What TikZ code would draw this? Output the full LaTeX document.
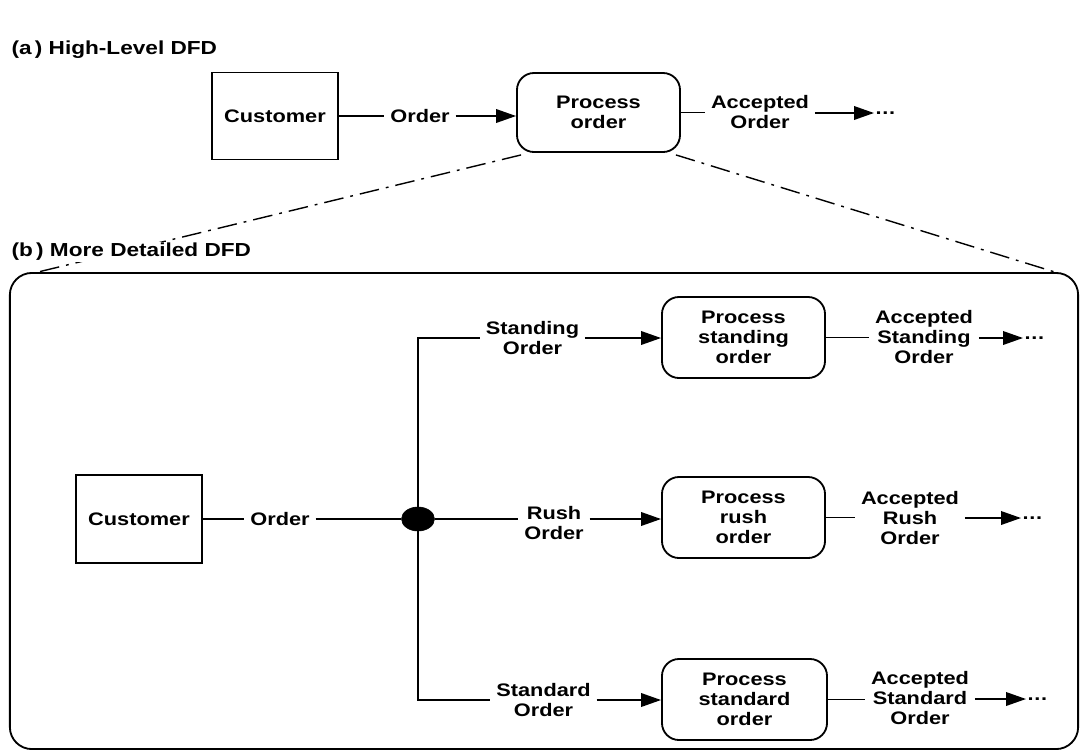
\documentclass[tikz,border=0pt]{standalone}
\usepackage{fontspec}
\setmainfont{Liberation Sans}[FakeStretch=1.2]
\usetikzlibrary{arrows.meta,shapes.geometric,calc}

\newcommand{\moredots}{\textbf{.\kern0.5pt.\kern0.5pt.}}

\begin{document}
\begin{tikzpicture}[x=0.025cm,y=-0.025cm,
  every node/.style={font=\fontsize{12.9}{14}\selectfont\bfseries, align=center},
  entity/.style={draw, line width=1.3pt, inner sep=0pt},
  process/.style={draw, line width=1.3pt, rounded corners=0.425cm, fill=white, inner sep=0pt},
  flowlabel/.style={inner xsep=4pt, inner ysep=1pt},
  flow/.style={line width=1.2pt},
  arrowflow/.style={flow, -{Triangle[length=5mm,width=3.4mm]}},
  zoomline/.style={line width=1pt, dash pattern=on 14pt off 5pt on 2pt off 5pt},
  titlelabel/.style={anchor=west, inner sep=1pt, fill=white, font=\fontsize{13.4}{15}\selectfont\bfseries},
  ellipsis/.style={anchor=west, inner xsep=1pt, inner ysep=0pt}]

\useasboundingbox (0,0) rectangle (1085,752);

% ---------- (a) high-level diagram ----------
\node[titlelabel] (ta) at (10,50) {(a\,) High-Level DFD};

\node[entity, minimum width=3.15cm, minimum height=2.175cm] (cust1) at (275,116) {Customer};
\node[flowlabel] (ord1) at (420,116) {Order};
\node[process, minimum width=4.075cm, minimum height=1.975cm] (proc1) at (598.5,112.5) {Process\\order};
\node[flowlabel] (acc1) at (760,112) {Accepted\\Order};
\node[ellipsis] (dots1) at (874,113) {\moredots};

\draw[flow] (cust1.east |- ord1.west) -- (ord1.west);
\draw[arrowflow] (ord1.east) -- (ord1.east -| proc1.west);
\draw[flow] (proc1.east) -- (proc1.east -| acc1.west);
\draw[arrowflow] (acc1.east |- dots1.west) -- (dots1.west);

% ---------- expansion lines ----------
\coordinate (fl) at (34,273);
\coordinate (fr) at (1058,273);
\draw[zoomline] ($(proc1.south west)+(5,2)$) -- (fl);
\draw[zoomline] ($(proc1.south east)+(-5,2)$) -- (fr);

% ---------- (b) detailed diagram ----------
\node[titlelabel] (tb) at (10,252) {(b\,) More Detailed DFD};

\node[draw, line width=1.3pt, rounded corners=0.55cm, minimum width=26.7cm, minimum height=11.9cm, inner sep=0pt] (frame) at (544,511) {};

\node[entity, minimum width=3.15cm, minimum height=2.2cm] (cust2) at (139,519) {Customer};
\node[flowlabel] (ord2) at (280,519) {Order};
\node[ellipse, fill=black, draw=black, minimum width=0.825cm, minimum height=0.6cm, inner sep=0pt] (split) at (418,519) {};
\coordinate (jt) at (418,338);
\coordinate (jb) at (418,700);

\node[flowlabel] (stlab) at (532.5,338) {Standing\\Order};
\node[flowlabel] (rulab) at (554,523) {Rush\\Order};
\node[flowlabel] (sdlab) at (543.5,700) {Standard\\Order};

\node[process, minimum width=4.075cm, minimum height=2.025cm] (pst) at (743.5,337.5) {Process\\standing\\order};
\node[process, minimum width=4.075cm, minimum height=2.025cm] (pru) at (743.5,517.5) {Process\\rush\\order};
\node[process, minimum width=4.125cm, minimum height=2.025cm] (psd) at (744.5,699.5) {Process\\standard\\order};

\node[flowlabel] (ast) at (924,337) {Accepted\\Standing\\Order};
\node[flowlabel] (aru) at (910,518) {Accepted\\Rush\\Order};
\node[flowlabel] (asd) at (920,698) {Accepted\\Standard\\Order};

\node[ellipsis] (dst) at (1023,338) {\moredots};
\node[ellipsis] (dru) at (1021,518) {\moredots};
\node[ellipsis] (dsd) at (1026,699) {\moredots};

% input flow and split
\draw[flow] (cust2.east) -- (ord2.west);
\draw[flow] (ord2.east) -- (split.west);
\draw[flow] (split.north) -- (jt) -- (stlab.west);
\draw[flow] (split.south) -- (jb) -- (sdlab.west);
\draw[flow] (split.east) -- (split.east -| rulab.west);

% flows into the processes
\draw[arrowflow] (stlab.east) -- (stlab.east -| pst.west);
\draw[arrowflow] (rulab.east |- split.east) -- (split.east -| pru.west);
\draw[arrowflow] (sdlab.east) -- (sdlab.east -| psd.west);

% accepted orders leaving the processes
\draw[flow] (pst.east) -- (pst.east -| ast.west);
\draw[arrowflow] (ast.east |- dst.west) -- (dst.west);
\draw[flow] (pru.east) -- (pru.east -| aru.west);
\draw[arrowflow] (aru.east |- dru.west) -- (dru.west);
\draw[flow] (psd.east) -- (psd.east -| asd.west);
\draw[arrowflow] (asd.east |- dsd.west) -- (dsd.west);

\end{tikzpicture}
\end{document}
